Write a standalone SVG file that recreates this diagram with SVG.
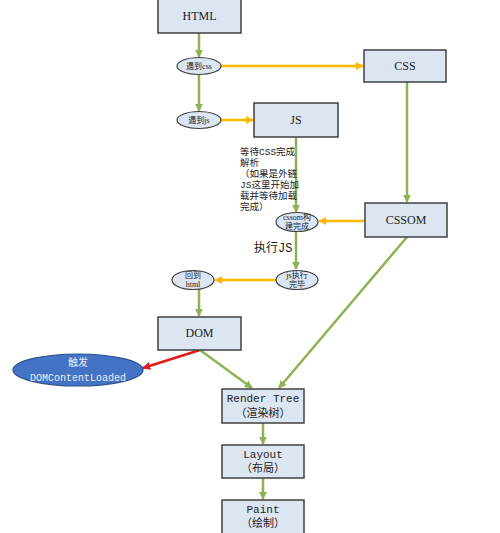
<svg xmlns="http://www.w3.org/2000/svg" width="500" height="533" viewBox="0 0 500 533">
<style>
.box{fill:#dce6f2;stroke:#404040;stroke-width:1.5}
.ell{fill:#dce6f2;stroke:#404040;stroke-width:1.2}
.g{stroke:#8db255;stroke-width:2.5;fill:none}
.o{stroke:#ffb900;stroke-width:2.5;fill:none}
.r{stroke:#e21a1a;stroke-width:2.5;fill:none}
.t{font-family:"Liberation Serif","Noto Sans CJK SC",serif;font-size:12px;fill:#222;text-anchor:middle}
.m{font-family:"Liberation Mono","Noto Sans CJK SC",monospace;font-size:11px;fill:#222;text-anchor:middle}
.s{font-family:"Liberation Serif","Noto Sans CJK SC",serif;font-size:8px;fill:#222;text-anchor:middle}
.n{font-family:"Liberation Mono","Noto Sans CJK SC",monospace;font-size:9.5px;fill:#222}
</style>
<defs>
<marker id="ag" viewBox="0 0 10 10" refX="9" refY="5" markerWidth="3.2" markerHeight="3.2" orient="auto"><path d="M0,0L10,5L0,10z" fill="#8db255"/></marker>
<marker id="ao" viewBox="0 0 10 10" refX="9" refY="5" markerWidth="3.2" markerHeight="3.2" orient="auto"><path d="M0,0L10,5L0,10z" fill="#ffb900"/></marker>
<marker id="ar" viewBox="0 0 10 10" refX="9" refY="5" markerWidth="3.2" markerHeight="3.2" orient="auto"><path d="M0,0L10,5L0,10z" fill="#e21a1a"/></marker>
</defs>
<g id="connectors">
<line class="g" x1="199" y1="33" x2="199" y2="57" marker-end="url(#ag)"/>
<line class="g" x1="199" y1="74" x2="199" y2="111" marker-end="url(#ag)"/>
<line class="o" x1="221" y1="66" x2="363" y2="66" marker-end="url(#ao)"/>
<line class="o" x1="221" y1="120" x2="253" y2="120" marker-end="url(#ao)"/>
<line class="g" x1="407" y1="82" x2="407" y2="202" marker-end="url(#ag)"/>
<line class="g" x1="296" y1="137" x2="296" y2="212" marker-end="url(#ag)"/>
<line class="o" x1="365" y1="221" x2="319" y2="221" marker-end="url(#ao)"/>
<line class="g" x1="296" y1="231" x2="296" y2="269" marker-end="url(#ag)"/>
<line class="o" x1="276" y1="280" x2="215" y2="280" marker-end="url(#ao)"/>
<line class="g" x1="199" y1="289" x2="199" y2="316" marker-end="url(#ag)"/>
<line class="r" x1="200" y1="350" x2="143" y2="368" marker-end="url(#ar)"/>
<line class="g" x1="200" y1="350" x2="252" y2="388" marker-end="url(#ag)"/>
<line class="g" x1="407" y1="237" x2="279" y2="388" marker-end="url(#ag)"/>
<line class="g" x1="263" y1="423" x2="263" y2="444" marker-end="url(#ag)"/>
<line class="g" x1="263" y1="478" x2="263" y2="499" marker-end="url(#ag)"/>
</g>
<g id="html"><rect class="box" x="158" y="-2" width="83" height="35"/><text class="t" x="199.5" y="20">HTML</text></g>
<g id="meet-css"><ellipse class="ell" cx="199" cy="66" rx="22" ry="8.5"/><text class="s" x="199" y="69">遇到css</text></g>
<g id="css"><rect class="box" x="364" y="50" width="82" height="32"/><text class="t" x="405" y="70">CSS</text></g>
<g id="meet-js"><ellipse class="ell" cx="199" cy="120" rx="22" ry="8.5"/><text class="s" x="199" y="123">遇到js</text></g>
<g id="js"><rect class="box" x="254" y="103" width="84" height="34"/><text class="t" x="296" y="124">JS</text></g>
<g id="note"><text class="n" x="240" y="155">等待CSS完成</text><text class="n" x="240" y="166">解析</text><text class="n" x="240" y="177">（如果是外链</text><text class="n" x="240" y="188">JS这里开始加</text><text class="n" x="240" y="199">载并等待加载</text><text class="n" x="240" y="210">完成）</text></g>
<g id="cssom-done"><ellipse class="ell" cx="297" cy="222" rx="21" ry="9.5"/><text class="s" x="297" y="220">cssom构</text><text class="s" x="297" y="229">建完成</text></g>
<g id="cssom"><rect class="box" x="365" y="203" width="82" height="34"/><text class="t" x="406" y="224">CSSOM</text></g>
<text x="254" y="252" style="font-family:'Liberation Mono','Noto Sans CJK SC',monospace;font-size:12px;fill:#222">执行JS</text>
<g id="js-done"><ellipse class="ell" cx="297" cy="280" rx="21" ry="9.5"/><text class="s" x="297" y="278">js执行</text><text class="s" x="297" y="287">完毕</text></g>
<g id="back-html"><ellipse class="ell" cx="193" cy="280" rx="21" ry="9.5"/><text class="s" x="193" y="278">回到</text><text class="s" x="193" y="287">html</text></g>
<g id="dom"><rect class="box" x="158" y="317" width="83" height="33"/><text class="t" x="199.5" y="337">DOM</text></g>
<g id="dcl"><ellipse cx="78" cy="370" rx="65" ry="16" fill="#4472c4" stroke="#2f528f" stroke-width="1.2"/><text class="m" x="78" y="366" style="fill:#e8eef8;font-size:10px">触发</text><text class="m" x="78" y="381" style="fill:#e8eef8;font-size:10px">DOMContentLoaded</text></g>
<g id="render-tree"><rect class="box" x="222" y="389" width="82" height="34"/><text class="m" x="263" y="402">Render Tree</text><text class="m" x="263" y="417">（渲染树）</text></g>
<g id="layout"><rect class="box" x="222" y="445" width="82" height="33"/><text class="m" x="263" y="458">Layout</text><text class="m" x="263" y="472">（布局）</text></g>
<g id="paint"><rect class="box" x="222" y="500" width="82" height="35"/><text class="m" x="263" y="513">Paint</text><text class="m" x="263" y="527">（绘制）</text></g>
</svg>
